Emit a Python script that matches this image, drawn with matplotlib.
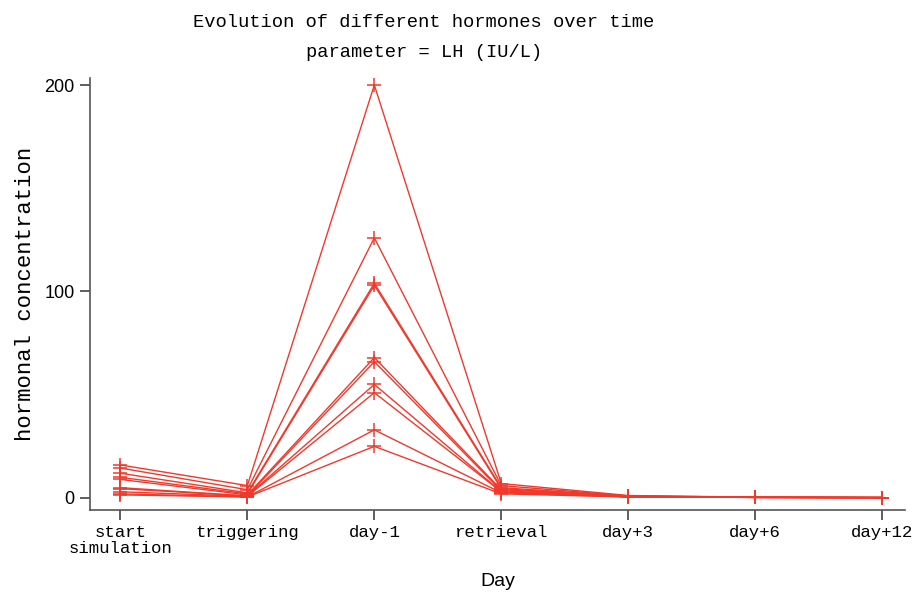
import matplotlib
matplotlib.use("Agg")
import matplotlib.pyplot as plt

# category axis
days = ["start\nsimulation", "triggering", "day-1", "retrieval",
        "day+3", "day+6", "day+12"]

# LH (IU/L) per simulated patient
lh_01 = [16.0, 6.0, 200.0, 7.0, 1.2, 0.4, 0.2]
lh_02 = [14.5, 4.0, 126.0, 6.0, 1.0, 0.4, 0.2]
lh_03 = [12.0, 2.5, 104.0, 5.0, 0.9, 0.3, 0.2]
lh_04 = [10.0, 2.0, 103.0, 4.5, 0.8, 0.3, 0.2]
lh_05 = [9.0, 1.5, 68.0, 4.0, 0.8, 0.3, 0.2]
lh_06 = [5.0, 1.0, 66.0, 3.5, 0.7, 0.3, 0.2]
lh_07 = [4.5, 1.0, 55.0, 3.0, 0.6, 0.3, 0.2]
lh_08 = [3.0, 0.8, 51.0, 3.0, 0.6, 0.3, 0.2]
lh_09 = [2.0, 0.5, 33.0, 2.5, 0.5, 0.3, 0.2]
lh_10 = [1.5, 0.5, 25.0, 2.0, 0.5, 0.3, 0.2]
series = [lh_01, lh_02, lh_03, lh_04, lh_05, lh_06, lh_07, lh_08, lh_09, lh_10]

yticks = [0, 100, 200]

MONO = "Liberation Mono"
NARROW = ["Liberation Sans Narrow", "Liberation Sans"]
RED = "#f0392c"

fig = plt.figure(figsize=(9.17, 5.98), dpi=100)
ax = fig.add_axes([0.0981, 0.1472, 0.8888, 0.7224])

x = list(range(len(days)))
for s in series:
    ax.plot(x, s, color=RED, lw=1.0, marker="+", ms=10, mew=1.1)

ax.set_xlim(-0.24, 6.18)
ax.set_ylim(-5.8, 203.4)
for side in ("top", "right"):
    ax.spines[side].set_visible(False)
for side in ("left", "bottom"):
    ax.spines[side].set_color("#555555")
    ax.spines[side].set_linewidth(1.2)

ax.set_xticks(x)
ax.set_xticklabels(days, family=MONO, fontsize=12.5, linespacing=1.1)
ax.set_yticks(yticks)
ax.set_yticklabels([str(v) for v in yticks], family=NARROW, fontsize=13)
ax.tick_params(axis="both", direction="out", length=7, width=1.1,
               color="#333333", pad=4)

ax.set_ylabel("hormonal concentration", family=MONO, fontsize=16, labelpad=6)
ax.set_xlabel("Day", family=NARROW, fontsize=14, labelpad=12)

fig.text(0.4624, 0.963, "Evolution of different hormones over time",
         family=MONO, fontsize=13.5, ha="center", va="center")
fig.text(0.4624, 0.913, "parameter = LH (IU/L)",
         family=MONO, fontsize=13.5, ha="center", va="center")

fig.savefig("out.png", dpi=100, facecolor="white")
